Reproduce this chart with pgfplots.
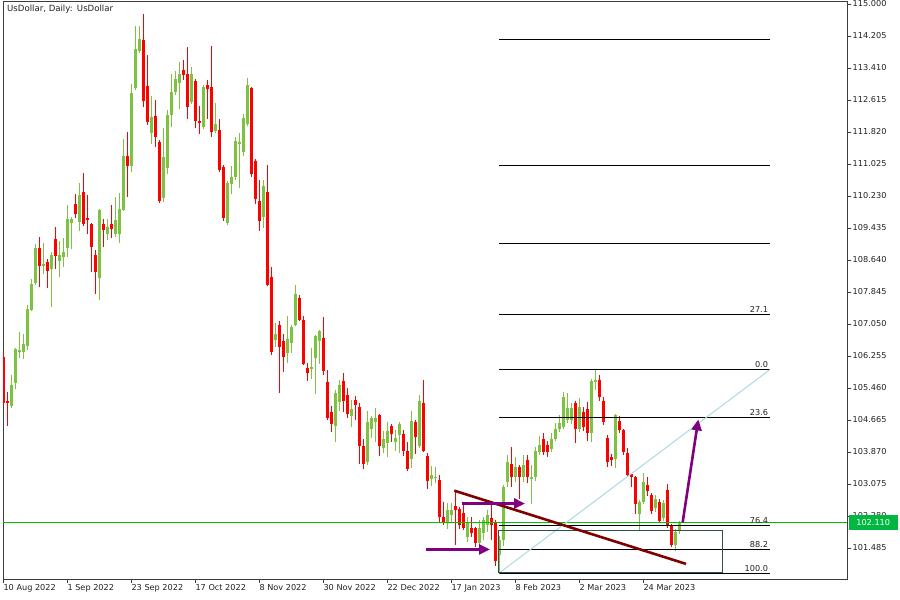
\documentclass[border=0pt]{standalone}
\usepackage{pgfplots}
\pgfplotsset{compat=1.18}
\usepackage{pgfplotstable}
\usepackage{fontspec}
\setmainfont{DejaVu Sans}
\usetikzlibrary{arrows.meta}

\definecolor{bull}{RGB}{125,195,65}
\definecolor{bear}{RGB}{255,0,0}
\definecolor{frame}{RGB}{60,60,60}
\definecolor{txt}{RGB}{34,34,34}
\definecolor{bidline}{RGB}{0,192,0}
\definecolor{bidbox}{RGB}{0,184,64}
\definecolor{trend}{RGB}{128,0,0}
\definecolor{purp}{RGB}{128,0,128}
\definecolor{diag}{RGB}{173,216,230}
\definecolor{boxc}{RGB}{47,79,79}

\newcommand{\lbl}{\fontsize{8.2}{10}\selectfont}

% daily candles, i = bar number from 10 Aug 2022
\pgfplotstableread{
i o h l c
2 105.01 105.78 104.96 105.53
3 105.58 106.45 105.43 106.43
4 106.35 106.85 106.21 106.40
5 106.35 106.80 106.18 106.55
6 106.50 107.52 106.40 107.42
7 107.40 108.17 107.37 108.04
8 108.07 109.04 108.02 108.94
10 108.49 109.06 108.29 108.54
12 108.42 108.84 107.47 108.76
14 108.61 109.11 108.22 108.76
15 108.71 109.19 108.47 108.84
16 108.94 110.01 108.71 109.66
17 109.56 109.71 108.91 109.66
19 109.58 110.55 109.36 110.25
24 108.19 109.91 107.65 109.88
26 109.29 109.66 109.14 109.46
28 109.29 110.21 109.21 109.63
29 109.29 110.30 109.06 109.91
30 109.88 111.65 109.86 111.22
32 110.98 113.01 110.83 112.79
33 112.91 114.45 112.86 113.88
34 113.83 114.45 113.78 114.13
37 111.80 112.71 111.52 112.19
40 110.18 111.92 110.08 111.20
41 110.93 112.37 110.78 112.24
42 112.24 113.26 111.94 112.81
43 112.81 113.34 112.74 113.14
44 113.04 113.56 112.39 113.26
47 112.56 113.44 112.51 113.26
50 111.94 112.99 111.89 112.94
53 111.84 112.54 111.80 112.02
56 109.56 110.60 109.51 110.55
57 110.53 110.98 110.28 110.70
58 110.70 111.70 110.63 111.60
59 111.52 111.80 110.43 111.57
60 111.32 112.27 111.22 112.17
61 112.02 113.16 111.97 112.99
65 109.71 110.63 109.44 110.48
68 106.65 107.07 106.48 106.80
71 106.33 107.25 106.08 106.68
72 106.58 107.03 106.33 106.98
73 107.03 108.02 107.00 107.80
77 105.93 106.45 105.68 105.98
78 106.21 106.78 105.31 106.75
79 106.63 106.90 106.06 106.88
83 104.52 105.41 104.12 105.34
84 105.11 105.66 104.89 105.53
87 104.76 105.16 104.49 104.94
91 103.62 104.89 103.55 104.62
92 104.44 104.76 104.22 104.71
93 104.62 104.96 104.12 104.71
95 103.97 104.39 103.85 104.19
96 104.09 104.62 103.75 104.39
98 104.12 104.42 103.90 104.22
99 104.29 104.62 103.85 104.57
102 103.70 104.89 103.47 104.64
104 104.02 105.28 103.97 105.14
107 103.20 103.52 103.03 103.30
108 103.22 103.50 103.10 103.25
111 102.11 102.60 101.96 102.43
112 102.31 102.60 102.11 102.43
116 101.76 102.26 101.64 102.11
119 101.61 102.18 101.51 101.98
120 101.86 102.26 101.68 102.18
121 102.06 102.43 101.88 102.31
124 101.31 101.79 100.86 101.68
125 101.68 103.05 101.53 103.00
126 103.12 103.80 103.00 103.62
128 103.25 103.75 103.12 103.50
130 103.25 103.80 103.12 103.55
132 103.20 103.55 102.58 103.25
133 103.25 103.99 103.15 103.90
134 103.87 104.27 103.80 104.04
137 103.94 104.34 103.87 104.19
138 104.19 104.59 104.14 104.44
139 104.44 104.79 104.37 104.59
140 104.49 105.36 104.44 105.23
141 104.66 105.34 104.59 104.96
142 104.66 105.09 104.57 104.96
144 104.44 105.21 104.37 104.99
147 104.34 105.68 104.12 105.63
148 105.61 105.92 105.41 105.66
153 103.70 104.81 103.47 104.79
159 102.33 102.68 101.93 102.63
160 102.63 103.35 102.58 103.12
163 102.48 102.80 102.38 102.70
165 102.23 102.68 102.16 102.60
168 101.56 101.96 101.41 101.88
169 101.91 102.16 101.83 102.11
}\upc

\pgfplotstableread{
i o h l c
0 106.23 106.35 105.04 105.09
1 105.14 105.36 104.52 105.09
9 108.94 109.21 107.97 108.49
11 108.59 108.66 107.94 108.37
13 109.16 109.46 108.42 108.74
18 110.03 110.28 109.68 109.78
20 110.33 110.80 109.48 109.53
21 109.68 110.25 109.29 109.63
22 109.53 109.56 108.34 108.96
23 108.76 108.89 107.80 108.34
25 109.53 109.66 108.96 109.39
27 109.53 110.01 109.19 109.41
31 111.22 111.82 110.21 110.98
35 114.11 114.75 112.44 112.59
36 112.96 113.73 111.99 112.07
38 112.22 112.61 111.45 111.70
39 111.57 111.62 110.06 110.11
45 113.36 113.61 113.11 113.24
46 113.26 113.93 112.14 112.44
48 113.09 113.14 111.92 112.09
49 112.09 112.47 111.77 112.04
51 112.99 113.11 112.14 112.89
52 112.94 113.96 111.70 111.82
54 111.87 112.14 110.83 110.88
55 110.95 111.00 109.61 109.68
62 112.91 112.94 110.70 110.78
63 111.10 111.15 110.03 110.16
64 110.11 110.63 109.36 109.61
66 110.33 111.00 107.99 108.02
67 108.22 108.47 106.28 106.35
69 107.03 107.12 105.34 106.48
70 106.63 106.80 105.86 106.23
74 107.70 107.77 107.12 107.15
75 107.15 107.25 106.03 106.06
76 105.96 106.08 105.63 105.83
80 106.70 107.22 105.78 105.88
81 105.61 105.91 104.66 104.71
82 104.86 105.01 104.37 104.57
85 105.63 105.83 104.86 105.14
86 105.28 105.46 104.71 104.81
88 105.16 105.26 104.66 105.04
89 104.99 105.09 103.57 104.02
90 104.02 104.19 103.45 103.57
94 104.79 104.81 103.77 104.02
97 104.52 104.57 104.12 104.32
100 104.32 104.42 103.77 103.90
101 103.90 104.12 103.40 103.45
103 104.62 104.66 103.82 104.24
105 105.09 105.66 103.87 103.90
106 103.77 103.85 102.95 103.15
109 103.17 103.30 102.11 102.26
110 102.26 102.63 102.06 102.11
113 102.53 102.93 101.56 102.43
114 102.45 102.50 101.96 102.06
115 102.36 102.60 101.93 101.98
117 101.98 102.26 101.76 101.86
118 101.98 102.01 101.51 101.61
122 102.23 102.60 101.68 102.06
123 102.11 102.18 101.04 101.16
127 103.57 103.99 103.00 103.25
129 103.50 103.55 102.70 103.25
131 103.67 103.80 103.10 103.25
135 104.19 104.34 103.80 103.87
136 104.04 104.14 103.75 103.87
143 105.09 105.14 104.09 104.44
145 104.86 104.99 104.39 104.49
146 104.94 105.11 104.14 104.34
149 105.66 105.78 105.14 105.23
150 105.14 105.23 104.54 104.62
151 104.22 104.29 103.50 103.62
152 103.75 103.82 103.52 103.67
154 104.64 104.76 104.34 104.42
155 104.42 104.44 103.80 103.87
156 103.85 103.97 103.25 103.30
157 103.32 103.35 103.00 103.25
158 103.25 103.27 102.33 102.58
161 103.05 103.25 102.78 102.90
162 102.80 102.85 102.33 102.40
164 102.63 102.70 102.11 102.16
166 102.93 103.08 101.98 102.03
167 102.03 102.08 101.51 101.56
}\downc

\begin{document}
\begin{tikzpicture}
\path[use as bounding box, fill=white] (0,0) rectangle (900bp,600bp);
\begin{axis}[
  at={(3bp,21bp)}, anchor=south west,
  width=844bp, height=577bp, scale only axis,
  xmin=-0.08, xmax=210.92,
  ymin=100.715, ymax=115.05,
  axis line style={draw=frame, line width=1bp},
  tick style={draw=frame, line width=1bp},
  major tick length=4bp, tick align=outside,
  xtick pos=left, ytick pos=right, yticklabel pos=right,
  scaled y ticks=false,
  xtick={0,16,32,48,64,80,96,112,128,144,160},
  xticklabels={10 Aug 2022,1 Sep 2022,23 Sep 2022,17 Oct 2022,8 Nov 2022,30 Nov 2022,22 Dec 2022,17 Jan 2023,8 Feb 2023,2 Mar 2023,24 Mar 2023},
  x tick label style={font=\lbl, text=txt, anchor=north west, inner sep=0pt, xshift=0bp, yshift=-1bp},
  ytick={101.485,102.280,103.075,103.870,104.665,105.460,106.255,107.050,107.845,108.640,109.435,110.230,111.025,111.820,112.615,113.410,114.205,115.000},
  yticklabels={101.485,102.280,103.075,103.870,104.665,105.460,106.255,107.050,107.845,108.640,109.435,110.230,111.025,111.820,112.615,113.410,114.205,115.000},
  y tick label style={font=\lbl, text=txt, anchor=west, inner sep=1.5bp},
]

% wicks
\addplot[draw=none, mark=none, forget plot,
  error bars/.cd, y dir=plus, y explicit, error mark=none,
  error bar style={draw=bull, line width=1bp, solid}]
  table[x=i, y=l, y error plus expr={\thisrow{h}-\thisrow{l}}] {\upc};
\addplot[draw=none, mark=none, forget plot,
  error bars/.cd, y dir=plus, y explicit, error mark=none,
  error bar style={draw=bear, line width=1bp, solid}]
  table[x=i, y=l, y error plus expr={\thisrow{h}-\thisrow{l}}] {\downc};
% bodies
\addplot[draw=none, mark=none, forget plot,
  error bars/.cd, y dir=plus, y explicit, error mark=none,
  error bar style={draw=bull, line width=3bp, solid}]
  table[x=i, y=o, y error plus expr={max(\thisrow{c}-\thisrow{o},0.03)}] {\upc};
\addplot[draw=none, mark=none, forget plot,
  error bars/.cd, y dir=plus, y explicit, error mark=none,
  error bar style={draw=bear, line width=3bp, solid}]
  table[x=i, y=c, y error plus expr={max(\thisrow{o}-\thisrow{c},0.03)}] {\downc};

% bid line
\addplot[draw=bidline, line width=1bp, forget plot] coordinates {(-0.08,102.11) (210.92,102.11)};

% fibonacci levels
\pgfplotsinvokeforeach{114.11,110.98,109.05,107.29,105.92,104.73,102.05,101.46,100.86}{
  \addplot[draw=black, line width=1bp, forget plot] coordinates {(123.9,#1) (191.7,#1)};
}
\addplot[draw=diag, line width=1bp, forget plot] coordinates {(123.9,100.86) (191.7,105.92)};
\addplot[draw=boxc, line width=1bp, forget plot] coordinates {(123.74,101.92) (179.74,101.92) (179.74,100.87) (123.74,100.87) (123.74,101.92)};

\node[anchor=south east, inner sep=1.5bp, font=\lbl, text=txt] at (axis cs:191.6,107.29) {27.1};
\node[anchor=south east, inner sep=1.5bp, font=\lbl, text=txt] at (axis cs:191.6,105.92) {0.0};
\node[anchor=south east, inner sep=1.5bp, font=\lbl, text=txt] at (axis cs:191.6,104.73) {23.6};
\node[anchor=south east, inner sep=1.5bp, font=\lbl, text=txt] at (axis cs:191.6,102.05) {76.4};
\node[anchor=south east, inner sep=1.5bp, font=\lbl, text=txt] at (axis cs:191.6,101.46) {88.2};
\node[anchor=south east, inner sep=1.5bp, font=\lbl, text=txt] at (axis cs:191.6,100.86) {100.0};

% trend line and arrows
\addplot[draw=trend, line width=2.6bp, forget plot] coordinates {(112.74,102.91) (170.67,101.09)};
\addplot[draw=purp, line width=2.6bp, forget plot, -{Triangle[length=11bp,width=10bp]}] coordinates {(105.67,101.45) (121.67,101.45)};
\addplot[draw=purp, line width=2.6bp, forget plot, -{Triangle[length=11bp,width=10bp]}] coordinates {(114.67,102.59) (130.42,102.59)};
\addplot[draw=purp, line width=2.6bp, forget plot, -{Triangle[length=11bp,width=10bp]}] coordinates {(169.83,102.12) (173.74,104.68)};

\node[anchor=north west, inner sep=0pt, xshift=4bp, yshift=-3bp, font=\fontsize{8.6}{10}\selectfont, text=txt] at (rel axis cs:0,1) {UsDollar, Daily:\enspace UsDollar};
\coordinate (bid) at (axis cs:210.92,102.11);
\end{axis}
\node[anchor=west, fill=bidbox, text=white, font=\lbl, inner sep=0pt, minimum width=49bp, minimum height=15bp, xshift=1.5bp] at (bid) {102.110};
\end{tikzpicture}
\end{document}
